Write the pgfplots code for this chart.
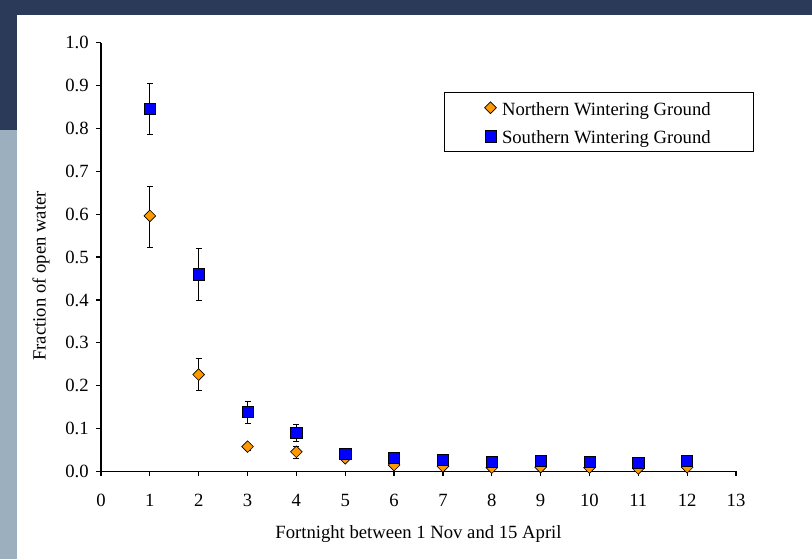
\documentclass[border=0pt]{standalone}
\usepackage{fontspec}
\setmainfont{Liberation Serif}
\usepackage{pgfplots}
\usepackage{pgfplotstable}
\pgfplotsset{compat=1.18}
\definecolor{navy}{HTML}{2C3A5A}
\definecolor{slate}{HTML}{9BAFBE}
\definecolor{orng}{HTML}{FF9900}
\definecolor{sqblue}{HTML}{0000FF}
\pgfplotstableread{
x y ep em
1 0.596 0.069 0.073
2 0.226 0.037 0.037
3 0.058 0.008 0.008
4 0.046 0.012 0.015
5 0.031 0.004 0.004
6 0.015 0.003 0.003
7 0.012 0.003 0.003
8 0.009 0.003 0.003
9 0.010 0.003 0.003
10 0.009 0.003 0.003
11 0.007 0.003 0.003
12 0.010 0.003 0.003
}\north
\pgfplotstableread{
x y ep em
1 0.845 0.060 0.060
2 0.460 0.059 0.062
3 0.139 0.024 0.027
4 0.090 0.020 0.019
5 0.042 0.005 0.005
6 0.031 0.004 0.004
7 0.027 0.004 0.004
8 0.023 0.004 0.004
9 0.025 0.004 0.004
10 0.023 0.004 0.004
11 0.020 0.004 0.004
12 0.024 0.004 0.004
}\south
\begin{document}
\begin{tikzpicture}
\useasboundingbox (0,0) rectangle (609pt,419.25pt);
\fill[white] (0,0) rectangle (609pt,419.25pt);
\fill[navy] (0,408pt) rectangle (609pt,419.25pt);
\fill[navy] (0,321.75pt) rectangle (12.75pt,419.25pt);
\fill[slate] (0,0) rectangle (12.75pt,321.75pt);
\begin{axis}[
  at={(75.75pt,65.625pt)}, anchor=south west,
  scale only axis, width=476.25pt, height=321.6pt,
  xmin=0, xmax=13, ymin=0, ymax=1,
  axis x line*=bottom, axis y line*=left,
  axis line style={-, black, line width=0.9pt},
  tick align=outside, major tick length=3.75pt,
  tick style={black, line width=0.9pt},
  xtick={0,1,2,3,4,5,6,7,8,9,10,11,12,13},
  ytick={0,0.1,0.2,0.3,0.4,0.5,0.6,0.7,0.8,0.9,1.0},
  yticklabel style={/pgf/number format/fixed, /pgf/number format/fixed zerofill, /pgf/number format/precision=1, xshift=-2pt},
  /pgf/number format/assume math mode=true,
  tick label style={font=\fontsize{14}{16}\selectfont},
  xticklabel style={yshift=-9.75pt},
  label style={font=\fontsize{14}{16}\selectfont},
  xlabel={Fortnight between 1 Nov and 15 April},
  ylabel={Fraction of open water},
  xlabel style={at={(axis description cs:0.5,-0.146)}, anchor=center},
  ylabel style={at={(axis description cs:-0.0945,0.456)}, anchor=center},
  legend style={at={(axis description cs:1.028,0.885)}, anchor=north east,
    draw=black, line width=0.6pt, font=\fontsize{14}{16}\selectfont,
    inner xsep=30pt, inner ysep=3pt, row sep=4.5pt,
    nodes={text height=12pt, text depth=1pt}},
  legend cell align=left,
  clip=false,
]
\addplot[only marks, mark=square*, mark size=3.1pt,
  mark options={rotate=45, fill=orng, draw=black, line width=0.5pt},
  error bars/.cd, y dir=both, y explicit,
  error bar style={black, line width=0.75pt},
  error mark options={rotate=90, black, line width=0.75pt, mark size=2.25pt}]
  table[x=x, y=y, y error plus=ep, y error minus=em] {\north};
\addlegendentry{\hspace{2.25pt}Northern Wintering Ground}
\addplot[only marks, mark=square*, mark size=4.2pt,
  mark options={fill=sqblue, draw=black, line width=0.5pt},
  error bars/.cd, y dir=both, y explicit,
  error bar style={black, line width=0.75pt},
  error mark options={rotate=90, black, line width=0.75pt, mark size=2.25pt}]
  table[x=x, y=y, y error plus=ep, y error minus=em] {\south};
\addlegendentry{\hspace{2.25pt}Southern Wintering Ground}
\end{axis}
\end{tikzpicture}
\end{document}
